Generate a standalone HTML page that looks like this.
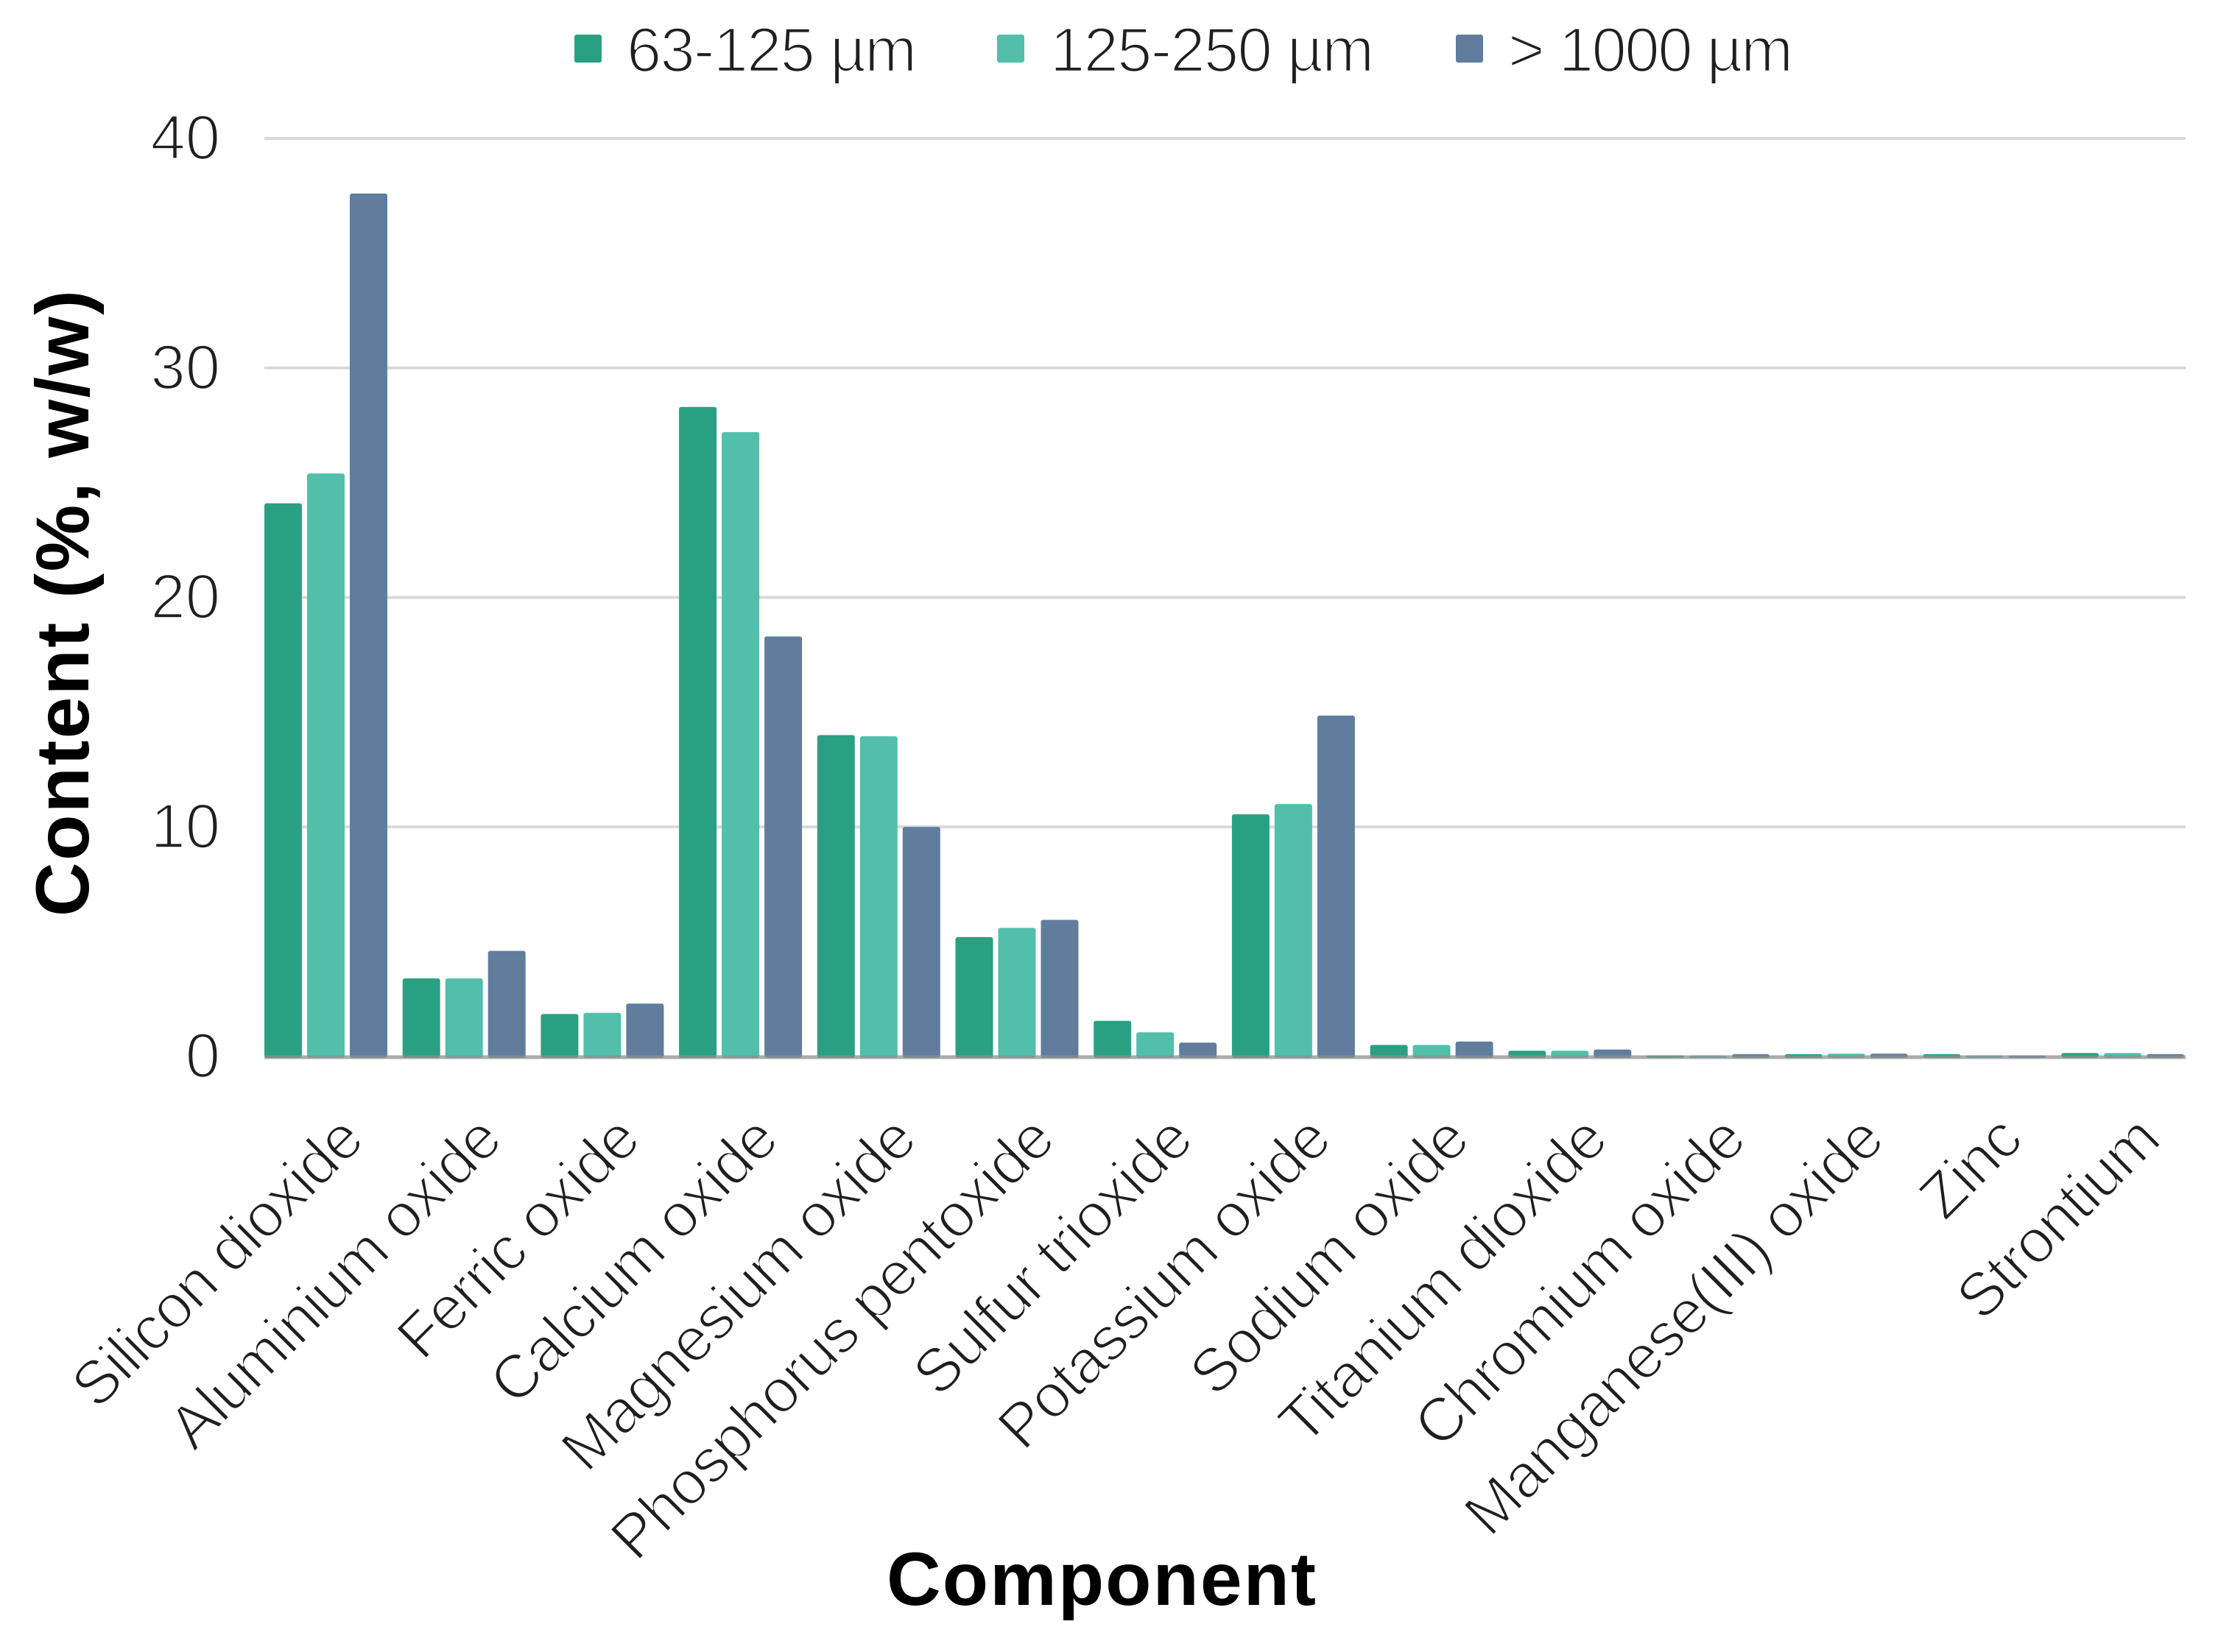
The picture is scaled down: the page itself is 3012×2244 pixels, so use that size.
<!DOCTYPE html>
<html lang="en">
<head>
<meta charset="utf-8">
<title>Component content by particle size</title>
<style>
  html, body { margin: 0; padding: 0; background: #fff; }
  svg { display: block; }
  text { font-family: "Liberation Sans", sans-serif; }
  .light { fill: #1f1f1f; stroke: #fff; stroke-width: 2.6px; font-size: 85px; }
  .cat { font-size: 84px; letter-spacing: -1.4px; }
  .title { fill: #000; font-weight: bold; font-size: 102px; }
</style>
</head>
<body>
<svg id="chart" xmlns="http://www.w3.org/2000/svg" width="3012" height="2244" viewBox="0 0 3012 2244">
  <rect x="0" y="0" width="3012" height="2244" fill="#ffffff"/>
  <g id="grid"></g>
  <g id="yticks"></g>
  <g id="bars"></g>
  <line x1="359" x2="2968" y1="1436" y2="1436" stroke="#8f8f8f" stroke-opacity="0.75" stroke-width="5"/>
  <g id="xticks"></g>
  <g>
    <g>
      <rect x="780" y="47" width="37" height="38" rx="3" fill="#2aa082"/>
      <text class="light" x="851" y="97" textLength="394" lengthAdjust="spacing">63-125 µm</text>
    </g>
    <g>
      <rect x="1354" y="47" width="37" height="38" rx="3" fill="#52bfab"/>
      <text class="light" x="1426" y="97" textLength="440" lengthAdjust="spacing">125-250 µm</text>
    </g>
    <g>
      <rect x="1977" y="47" width="37" height="38" rx="3" fill="#607d9e"/>
      <text class="light" x="2048" y="97" textLength="387" lengthAdjust="spacing">&gt; 1000 µm</text>
    </g>
  </g>
  <text class="title" transform="translate(120 1245) rotate(-90)" textLength="851" lengthAdjust="spacing">Content (%, w/w)</text>
  <text class="title" x="1204" y="2180" textLength="583" lengthAdjust="spacing">Component</text>
</svg>
<script>
const categories = ["Silicon dioxide", "Aluminium oxide", "Ferric oxide", "Calcium oxide", "Magnesium oxide", "Phosphorus pentoxide", "Sulfur trioxide", "Potassium oxide", "Sodium oxide", "Titanium dioxide", "Chromium oxide", "Manganese(III) oxide", "Zinc", "Strontium"];
const series63to125 = [24.1, 3.4, 1.85, 28.3, 14.0, 5.2, 1.55, 10.55, 0.5, 0.25, 0.05, 0.1, 0.1, 0.15];
const series125to250 = [25.4, 3.4, 1.9, 27.2, 13.95, 5.6, 1.05, 11.0, 0.5, 0.25, 0.05, 0.12, 0.05, 0.15];
const seriesOver1000 = [37.6, 4.6, 2.3, 18.3, 10.0, 5.95, 0.6, 14.85, 0.65, 0.3, 0.1, 0.12, 0.05, 0.1];
const yTickValues = [0, 10, 20, 30, 40];

const NS = "http://www.w3.org/2000/svg";
const plotLeft = 359, plotRight = 2968, yZero = 1435, yForty = 188;
const groupPitch = 187.7, barWidth = 51, barStep = 58;
const allSeries = [
  { key: "63-125", values: series63to125, color: "#2aa082" },
  { key: "125-250", values: series125to250, color: "#52bfab" },
  { key: "over-1000", values: seriesOver1000, color: "#607d9e" }
];

function yScale(v) { return yZero - (v / 40) * (yZero - yForty); }
function xScale(i) { return plotLeft + i * groupPitch; }
function make(tag, attrs, parent) {
  const el = document.createElementNS(NS, tag);
  for (const k in attrs) el.setAttribute(k, attrs[k]);
  parent.appendChild(el);
  return el;
}

const gridG = document.getElementById("grid");
const yTicksG = document.getElementById("yticks");
yTickValues.forEach(function (t) {
  if (t !== 0) {
    const line = make("line", { x1: plotLeft, x2: plotRight, y1: yScale(t), y2: yScale(t), stroke: "#d9d9d9", "stroke-width": 4 }, gridG);
    
    
  }
  const label = make("text", { class: "light", x: 299, y: yScale(t) + 28, "text-anchor": "end" }, yTicksG);
  label.textContent = String(t);
  
  
});

const barsG = document.getElementById("bars");
allSeries.forEach(function (s, si) {
  s.values.forEach(function (v, i) {
    const top = yScale(v);
    const bar = make("rect", { x: xScale(i) + si * barStep, y: top, width: barWidth, height: yZero - top + 2, rx: 3, fill: s.color }, barsG);
    
    
  });
});

const xTicksG = document.getElementById("xticks");
categories.forEach(function (c, i) {
  const cx = xScale(i) + 84 + 54;
  const label = make("text", { class: "light cat", "text-anchor": "end", transform: "translate(" + cx + " 1552) rotate(-45)" }, xTicksG);
  label.textContent = c;
  
  
});
</script>
</body>
</html>
